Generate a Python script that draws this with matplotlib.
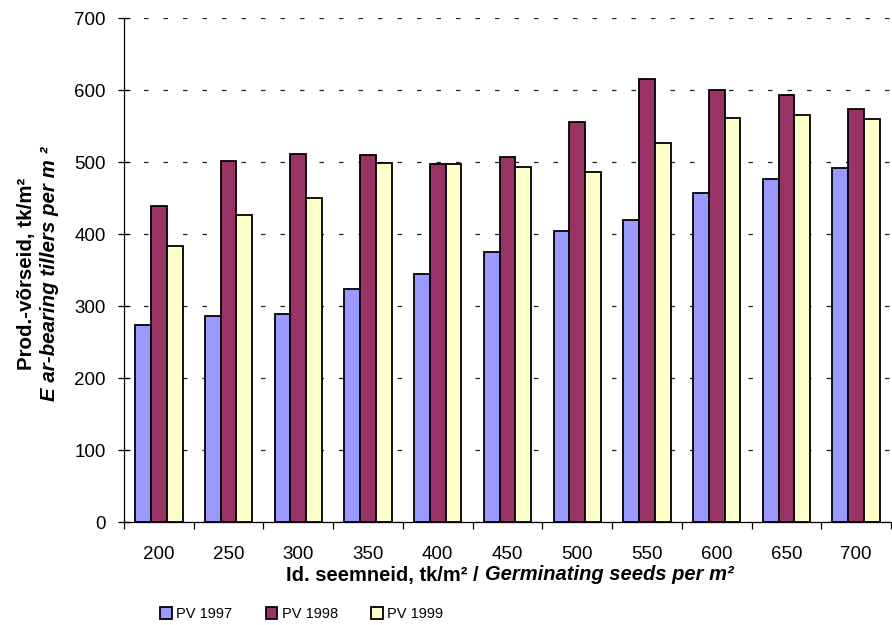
import matplotlib
matplotlib.use("Agg")
import matplotlib.pyplot as plt
import numpy as np

# ---------------------------
# Data
# ---------------------------
seeds = [200, 250, 300, 350, 400, 450, 500, 550, 600, 650, 700]
pv_1997 = [274, 286, 290, 324, 345, 375, 404, 420, 457, 477, 492]
pv_1998 = [439, 502, 512, 510, 498, 508, 556, 615, 600, 594, 574]
pv_1999 = [384, 427, 451, 499, 497, 494, 487, 527, 561, 566, 560]
series_names = ["PV 1997", "PV 1998", "PV 1999"]
colors = ["#9999FF", "#993366", "#FFFFCC"]

plt.rcParams["font.family"] = ["Liberation Sans", "DejaVu Sans"]

W, H = 892, 625
fig = plt.figure(figsize=(W / 100, H / 100), dpi=100)
ax = fig.add_axes([124 / W, 1 - 522.3 / H, 767 / W, 504 / H])

x = np.arange(len(seeds))
w = 0.226
for i, vals in enumerate([pv_1997, pv_1998, pv_1999]):
    ax.bar(x + (i - 1) * w, vals, width=w, color=colors[i], edgecolor="black",
           linewidth=1.3, label=series_names[i], zorder=3)

ax.set_xlim(-0.5, len(seeds) - 0.5)
ax.set_ylim(0, 700)
ax.set_yticks(range(0, 701, 100))
ax.yaxis.grid(True, color="#222222", linewidth=0.9, linestyle=(0, (3.6, 12)), zorder=0)

ax.set_xticks(x)
ax.set_xticklabels([str(s) for s in seeds])
ax.set_xticks(np.arange(-0.5, len(seeds)), minor=True)
ax.tick_params(axis="x", which="major", length=0, labelsize=13.5, pad=17)
ax.tick_params(axis="x", which="minor", length=5, direction="out", width=0.9)
ax.tick_params(axis="y", length=8, direction="inout", labelsize=13.5, width=0.9, pad=9)

for side in ["top", "right"]:
    ax.spines[side].set_visible(False)
for side in ["left", "bottom"]:
    ax.spines[side].set_linewidth(0.9)

# ---------------------------
# Axis titles (mixed bold / bold italic)
# ---------------------------
renderer = fig.canvas.get_renderer()
xl_y = 1 - 575 / H
part1 = fig.text(0, xl_y, "Id. seemneid, tk/m² / ", ha="left", va="center",
                 fontsize=14.5, fontweight="bold")
part2 = fig.text(0, xl_y, "Germinating seeds per m²", ha="left", va="center",
                 fontsize=14.5, fontweight="bold", fontstyle="italic")
w1 = part1.get_window_extent(renderer).width
w2 = part2.get_window_extent(renderer).width
x_start = 510 - (w1 + w2) / 2
part1.set_x(x_start / W)
part2.set_x((x_start + w1) / W)

fig.text(27 / W, 1 - 274 / H, "Prod.-võrseid, tk/m²", rotation=90,
         ha="center", va="center", fontsize=14.8, fontweight="bold")
fig.text(50 / W, 1 - 274 / H, "E ar-bearing tillers per m ²", rotation=90,
         ha="center", va="center", fontsize=14.8, fontweight="bold", fontstyle="italic")

fig.legend(loc="center left", bbox_to_anchor=(160 / W, 1 - 614 / H),
           ncol=3, frameon=False, fontsize=10.5, handlelength=0.8,
           handleheight=0.8, handletextpad=0.3, columnspacing=2.3,
           borderpad=0, borderaxespad=0)

fig.savefig("out.png", dpi=100)
